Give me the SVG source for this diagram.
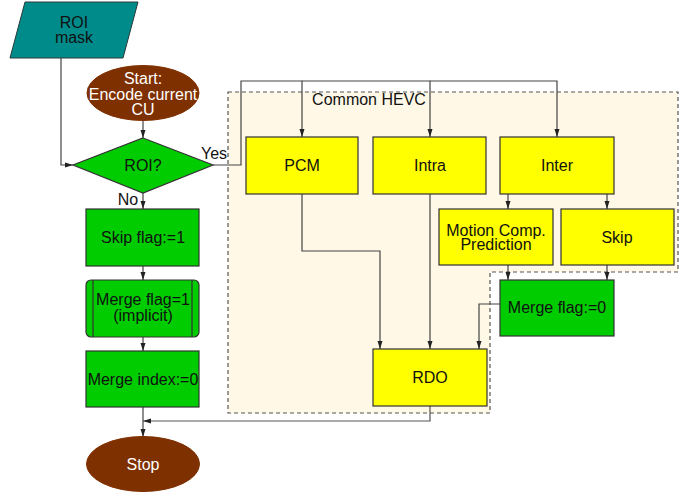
<svg xmlns="http://www.w3.org/2000/svg" width="694" height="495" viewBox="0 0 694 495">
<defs>
<marker id="ah" markerUnits="userSpaceOnUse" markerWidth="8" markerHeight="6" refX="8" refY="3" orient="auto">
<path d="M0,0.5 L8,3 L0,5.5 z" fill="#222"/>
</marker>
<style>
text{font-family:"Liberation Sans",Arial,sans-serif;font-size:16px;fill:#111;text-anchor:middle}
.w{fill:#fff}
.y{fill:#ffff00;stroke:#333;stroke-width:1.2}
.g{fill:#00cc00;stroke:#333;stroke-width:1.2}
.b{fill:#7f3000;stroke:#7f3000;stroke-width:1}
.c{fill:none;stroke:#444;stroke-width:1.2}
.a{marker-end:url(#ah)}
</style>
</defs>
<rect width="694" height="495" fill="#fff"/>
<g id="common-hevc">
<polygon points="228,92 678,92 678,272 490,272 490,413 228,413" fill="#fff8e7" stroke="#555" stroke-width="1.2" stroke-dasharray="4,3"/>
<text x="369" y="105">Common HEVC</text>
</g>
<g id="connectors">
<path class="c a" d="M61,58 V165 H73"/>
<path class="c a" d="M143,121 V138"/>
<path class="c a" d="M213,165 H241 V81 H302 V137"/>
<path class="c a" d="M302,81 H430 V137"/>
<path class="c a" d="M430,81 H557 V137"/>
<path class="c a" d="M143,193 V209"/>
<path class="c a" d="M143,266 V280"/>
<path class="c a" d="M143,337 V351"/>
<path class="c a" d="M143,407 V437"/>
<path class="c a" d="M508,194 V209"/>
<path class="c a" d="M607,194 V209"/>
<path class="c a" d="M508,265 V280"/>
<path class="c a" d="M607,265 V280"/>
<path class="c a" d="M302,194 V251 H380 V349"/>
<path class="c a" d="M430,194 V349"/>
<path class="c a" d="M500,304 H479 V349"/>
<path class="c a" d="M430,406 V421 H143" style="stroke:#555"/>
<text x="214" y="159">Yes</text>
<text x="128" y="205">No</text>
</g>
<g id="roi-mask">
<polygon points="25,2 138,2 123,58 10,58" fill="#008b8b" stroke="#2a3a3a" stroke-width="1"/>
<text x="74" y="28">ROI</text>
<text x="74" y="43">mask</text>
</g>
<g id="start">
<ellipse class="b" cx="143" cy="93" rx="56" ry="27.5"/>
<text class="w" x="143" y="84">Start:</text>
<text class="w" x="143" y="100">Encode current</text>
<text class="w" x="143" y="115">CU</text>
</g>
<g id="roi-decision">
<polygon class="g" points="143,138 213,165 143,193 73,165"/>
<text x="143" y="171">ROI?</text>
</g>
<g id="skip-flag">
<rect class="g" x="86" y="209" width="113" height="57"/>
<text x="143" y="243">Skip flag:=1</text>
</g>
<g id="merge-flag-1">
<rect class="g" x="86" y="280" width="113" height="57" rx="5"/>
<line x1="93" y1="280" x2="93" y2="337" stroke="#333" stroke-width="1.2"/>
<line x1="192" y1="280" x2="192" y2="337" stroke="#333" stroke-width="1.2"/>
<text x="143" y="305">Merge flag=1</text>
<text x="143" y="321">(implicit)</text>
</g>
<g id="merge-index">
<rect class="g" x="86" y="351" width="113" height="56"/>
<text x="143" y="385">Merge index:=0</text>
</g>
<g id="stop">
<ellipse class="b" cx="143" cy="464" rx="56.5" ry="27.5"/>
<text class="w" x="143" y="470">Stop</text>
</g>
<g id="pcm">
<rect class="y" x="246" y="137" width="112" height="57"/>
<text x="302" y="171">PCM</text>
</g>
<g id="intra">
<rect class="y" x="373" y="137" width="113" height="57"/>
<text x="430" y="171">Intra</text>
</g>
<g id="inter">
<rect class="y" x="500" y="137" width="114" height="57"/>
<text x="557" y="171">Inter</text>
</g>
<g id="motion-comp">
<rect class="y" x="439" y="209" width="114" height="56"/>
<text x="496" y="236">Motion Comp.</text>
<text x="496" y="250">Prediction</text>
</g>
<g id="skip">
<rect class="y" x="561" y="209" width="113" height="56"/>
<text x="617" y="243">Skip</text>
</g>
<g id="merge-flag-0">
<rect class="g" x="500" y="280" width="114" height="56"/>
<text x="557" y="313">Merge flag:=0</text>
</g>
<g id="rdo">
<rect class="y" x="373" y="349" width="114" height="57"/>
<text x="430" y="383">RDO</text>
</g>
</svg>
